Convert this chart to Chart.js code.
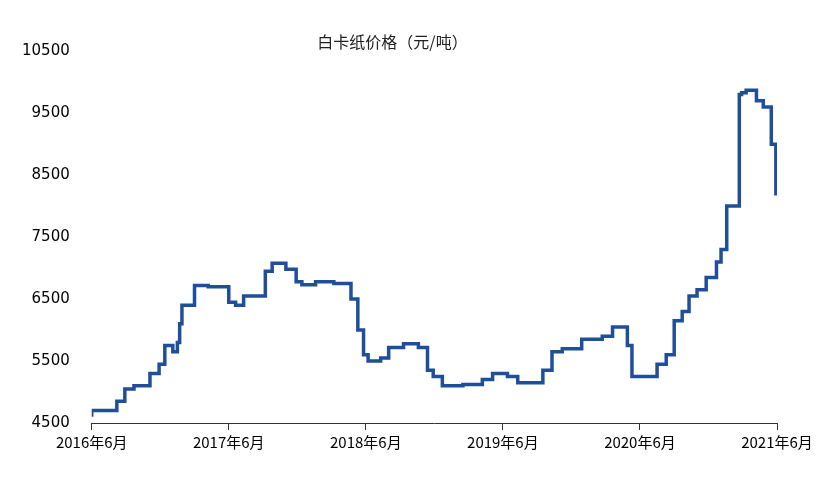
<!DOCTYPE html>
<html>
<head>
<meta charset="utf-8">
<script src="https://cdn.jsdelivr.net/npm/chart.js@4"></script>
<style>
  body { margin: 0; background: #fff; }
  #wrap { width: 835px; height: 488px; }
</style>
</head>
<body>
<div id="wrap"><canvas id="priceChart"></canvas></div>
<script>
// months since 2016-06 where each price level starts
var months = [0, 2.2, 2.9, 3.7, 5.1, 5.9, 6.4, 7.1, 7.5, 7.7, 7.9, 9.0, 10.2, 12.0, 12.6, 13.3, 13.8, 15.2, 15.8, 17.0, 17.9, 18.4, 19.6, 21.2, 22.7, 23.3, 23.8, 24.2, 25.3, 26.0, 27.3, 28.6, 29.4, 29.9, 30.7, 32.5, 34.2, 35.1, 36.4, 37.3, 38.6, 39.5, 40.3, 41.2, 42.9, 44.7, 45.6, 46.9, 47.3, 48.2, 49.5, 50.3, 51.0, 51.7, 52.3, 53.0, 53.8, 54.7, 55.1, 55.6, 56.0, 56.7, 56.9, 57.3, 58.2, 58.8, 59.5, 59.9, 60];
var prices = [4600, 4700, 4850, 5050, 5100, 5300, 5450, 5750, 5650, 5800, 6100, 6400, 6720, 6700, 6450, 6400, 6550, 6550, 6950, 7080, 6980, 6780, 6730, 6780, 6750, 6500, 6000, 5600, 5500, 5550, 5720, 5780, 5720, 5350, 5250, 5100, 5120, 5200, 5300, 5250, 5150, 5150, 5350, 5650, 5700, 5850, 5900, 6050, 5750, 5250, 5250, 5450, 5600, 6150, 6300, 6550, 6650, 6850, 7100, 7300, 8000, 8000, 9800, 9830, 9870, 9700, 9600, 9000, 8200];
var tickLabels = ['2016年6月', '2017年6月', '2018年6月', '2019年6月', '2020年6月', '2021年6月'];

var points = months.map(function (m, i) { return { x: m, y: prices[i] }; });
var font = { family: 'DejaVu Sans', size: 15 };

new Chart(document.getElementById('priceChart').getContext('2d'), {
    type: 'line',
    data: {
        datasets: [{
            data: points,
            borderColor: '#1F4E9A',
            borderWidth: 3.5,
            pointRadius: 0,
            stepped: 'after',
            fill: false
        }]
    },
    options: {
        responsive: true,
        maintainAspectRatio: false,
        animation: false,
        layout: { padding: { left: 8, right: 58, top: 32, bottom: 34 } },
        plugins: {
            legend: { display: false },
            tooltip: { enabled: false },
            title: {
                display: true,
                text: '白卡纸价格（元/吨）',
                color: '#222',
                font: { family: 'Noto Sans CJK SC', size: 16, weight: 'normal' },
                padding: { top: 0, bottom: 0 }
            }
        },
        scales: {
            x: {
                type: 'linear',
                min: 0,
                max: 60,
                afterBuildTicks: function (axis) {
                    axis.ticks = tickLabels.map(function (t, i) { return { value: i * 12 }; });
                },
                ticks: {
                    color: '#000',
                    font: { family: 'Noto Sans CJK SC', size: 15 },
                    maxRotation: 0,
                    callback: function (v) { return tickLabels[v / 12]; }
                },
                grid: { display: true, drawOnChartArea: false, drawTicks: true, tickLength: 7, color: '#333' },
                border: { display: true, color: '#333', width: 1 }
            },
            y: {
                min: 4500,
                max: 10500,
                ticks: {
                    stepSize: 1000, color: '#000', font: font, padding: 14,
                    callback: function (v) { return String(v); }
                },
                grid: { display: false },
                border: { display: false }
            }
        }
    }
});
</script>
</body>
</html>
